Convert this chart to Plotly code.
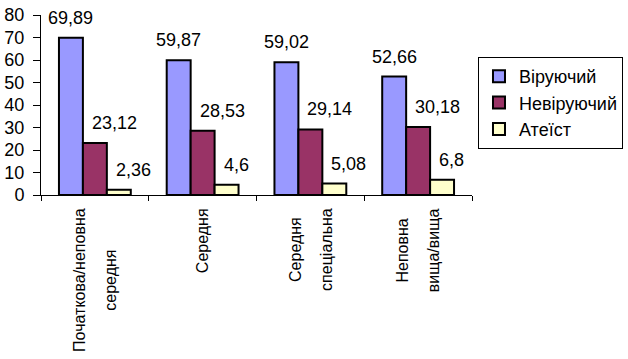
import plotly.graph_objects as go

categories = ["Початкова/неповна середня", "Середня", "Середня спеціальна", "Неповна вища/вища"]
series_names = ["Віруючий", "Невіруючий", "Атеїст"]
believer = [69.89, 59.87, 59.02, 52.66]
nonbeliever = [23.12, 28.53, 29.14, 30.18]
atheist = [2.36, 4.6, 5.08, 6.8]
y_ticks = [0, 10, 20, 30, 40, 50, 60, 70, 80]

colors = ["#9999FF", "#993366", "#FFFFCC"]
series = [believer, nonbeliever, atheist]

FONT = "Liberation Sans, Arial, sans-serif"

fig = go.Figure()
for name, vals, col in zip(series_names, series, colors):
    fig.add_bar(x=categories, y=vals, name=name,
                marker=dict(color=col, line=dict(color="black", width=2)))

annotations = []
# data labels: (xanchor, xshift) per series
label_pos = [("center", -24), ("left", -5), ("left", 19)]
for vals, (xa, xs) in zip(series, label_pos):
    for c, v in zip(categories, vals):
        annotations.append(dict(
            x=c, y=v, xref="x", yref="y", text=str(v).replace(".", ","),
            showarrow=False, xanchor=xa, yanchor="bottom", xshift=xs, yshift=8,
            font=dict(family=FONT, size=18, color="black")))

# category labels, rotated, lines centered
for c in categories:
    lines = c.split(" ")
    txt = "<br>".join("<span style='font-size:16px'>%s</span>" % l for l in lines)
    annotations.append(dict(
        x=c, y=0, xref="x", yref="y", text=txt, textangle=-90,
        showarrow=False, xanchor="center", yanchor="top", xshift=0, yshift=-11,
        align="center", font=dict(family=FONT, size=24, color="black")))

fig.update_layout(
    template="none",
    width=628, height=359,
    autosize=False,
    margin=dict(l=41, r=156, t=15, b=164, pad=0, autoexpand=False),
    paper_bgcolor="white", plot_bgcolor="white",
    barmode="group", bargap=1/3, bargroupgap=0,
    font=dict(family=FONT, size=18, color="black"),
    showlegend=True,
    legend=dict(x=1.0139, y=0.7667, xanchor="left", yanchor="top",
                bordercolor="black", borderwidth=1, bgcolor="white",
                font=dict(family=FONT, size=18, color="black"),
                itemwidth=30),
    annotations=annotations,
    xaxis=dict(showline=True, linecolor="black", linewidth=1, ticks="outside",
               tickson="boundaries", ticklen=5, tickcolor="black", tickwidth=1,
               showticklabels=False, showgrid=False, zeroline=False, automargin=False),
    yaxis=dict(range=[0, 80], tickvals=y_ticks, showline=True, linecolor="black",
               linewidth=1, ticks="outside", ticklen=7, tickcolor="black", tickwidth=1,
               showgrid=False, zeroline=False, automargin=False,
               tickfont=dict(family=FONT, size=18, color="black"),
               ticklabelstandoff=5),
)

fig.write_html("out.html", config={"displayModeBar": False},
               post_script="document.body.style.margin='0';")
